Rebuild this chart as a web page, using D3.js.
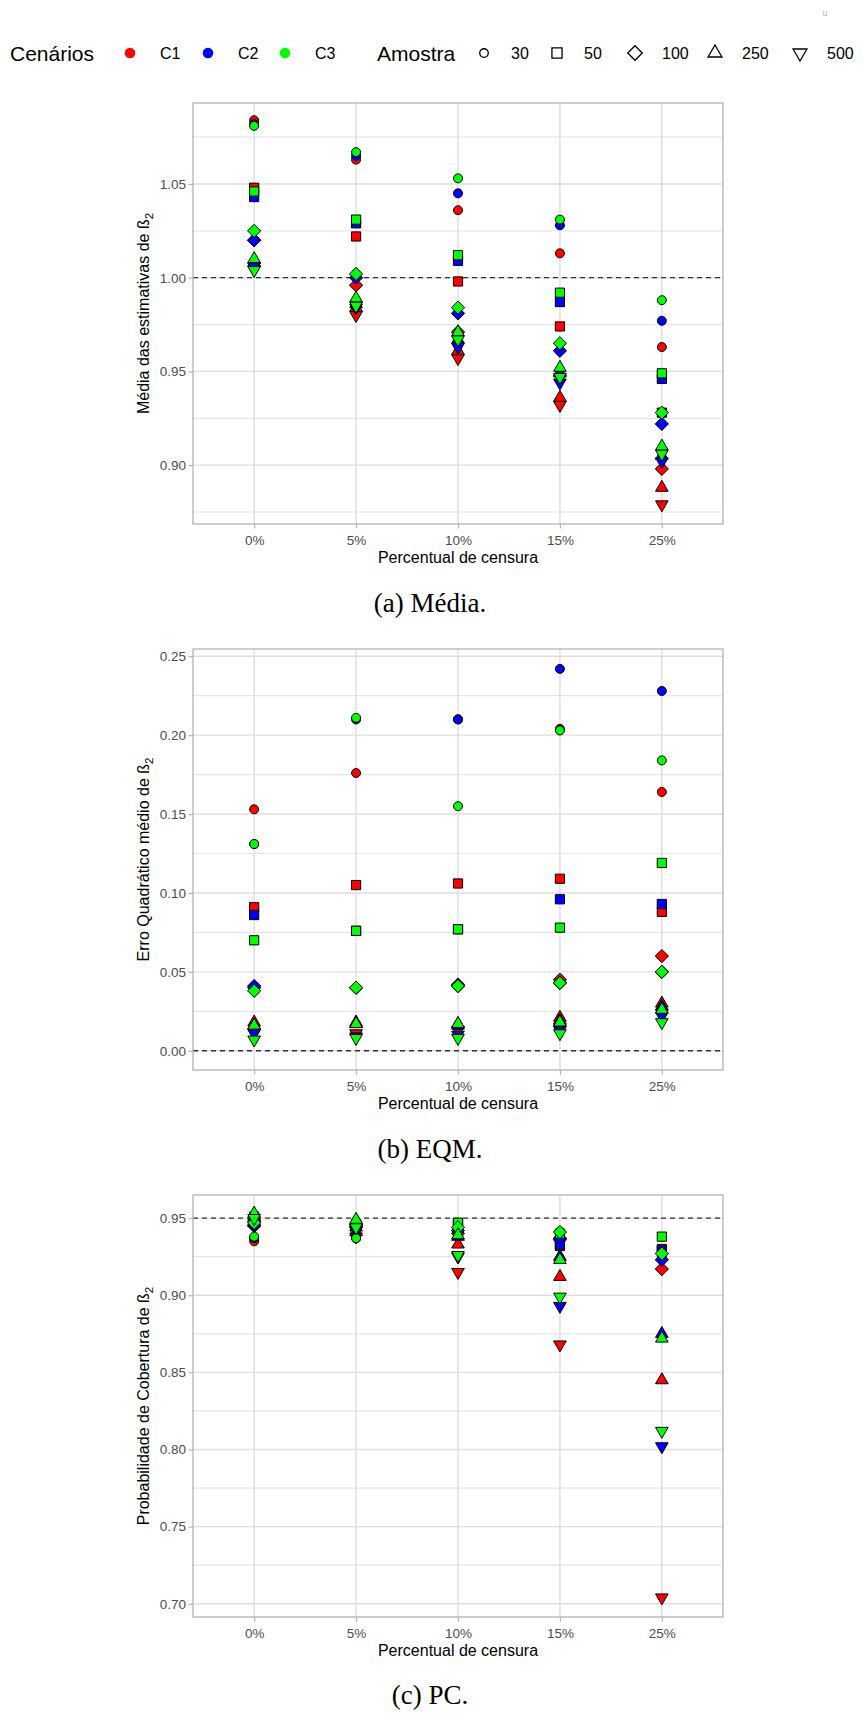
<!DOCTYPE html>
<html>
<head>
<meta charset="utf-8">
<script src="https://cdn.jsdelivr.net/npm/d3@7"></script>
<style>
  body { margin: 0; background: #fff; }
  text { font-family: "Liberation Sans", Arial, sans-serif; }
</style>
</head>
<body>
<svg id="fig" width="863" height="1713"></svg>
<script>
/*********************************************
** Simulacao - censura x tamanho de amostra
** d3 v7
**********************************************/

// categorias
var censura  = ["0%", "5%", "10%", "15%", "25%"];
var cenarios = ["C1", "C2", "C3"];
var amostras = ["30", "50", "100", "250", "500"];
var cores    = ["#FF0000", "#0000FF", "#00FF00"];
var formas   = ["circle", "square", "diamond", "up", "down"];

// linhas = amostra (30, 50, 100, 250, 500), colunas = censura
var mediaC1 = [[1.084, 1.063, 1.036, 1.013, 0.963],
               [1.048, 1.022, 0.998, 0.974, 0.928],
               [1.020, 0.996, 0.971, 0.948, 0.898],
               [1.008, 0.984, 0.961, 0.936, 0.888],
               [1.006, 0.980, 0.957, 0.932, 0.879]];
var mediaC2 = [[1.082, 1.065, 1.045, 1.028, 0.977],
               [1.043, 1.029, 1.009, 0.987, 0.946],
               [1.020, 1.000, 0.981, 0.961, 0.922],
               [1.008, 0.986, 0.967, 0.949, 0.905],
               [1.006, 0.984, 0.963, 0.944, 0.902]];
var mediaC3 = [[1.081, 1.067, 1.053, 1.031, 0.988],
               [1.046, 1.031, 1.012, 0.992, 0.949],
               [1.025, 1.002, 0.984, 0.965, 0.928],
               [1.010, 0.989, 0.971, 0.952, 0.910],
               [1.004, 0.985, 0.967, 0.947, 0.906]];

var eqmC1 = [[0.153, 0.176, 0.210, 0.204, 0.164],
             [0.091, 0.105, 0.106, 0.109, 0.088],
             [0.040, 0.040, 0.042, 0.045, 0.060],
             [0.018, 0.018, 0.017, 0.021, 0.030],
             [0.012, 0.011, 0.013, 0.015, 0.024]];
var eqmC2 = [[0.131, 0.210, 0.210, 0.242, 0.228],
             [0.086, 0.076, 0.077, 0.096, 0.093],
             [0.041, 0.040, 0.041, 0.043, 0.050],
             [0.016, 0.017, 0.016, 0.019, 0.028],
             [0.011, 0.009, 0.010, 0.013, 0.022]];
var eqmC3 = [[0.131, 0.211, 0.155, 0.203, 0.184],
             [0.070, 0.076, 0.077, 0.078, 0.119],
             [0.038, 0.040, 0.041, 0.043, 0.050],
             [0.016, 0.017, 0.017, 0.018, 0.026],
             [0.007, 0.008, 0.008, 0.011, 0.018]];

var pcC1 = [[0.935, 0.937, 0.944, 0.936, 0.925],
            [0.950, 0.945, 0.946, 0.932, 0.930],
            [0.945, 0.944, 0.940, 0.936, 0.917],
            [0.948, 0.941, 0.933, 0.912, 0.845],
            [0.947, 0.938, 0.915, 0.868, 0.704]];
var pcC2 = [[0.937, 0.938, 0.944, 0.938, 0.928],
            [0.950, 0.946, 0.946, 0.933, 0.929],
            [0.945, 0.945, 0.942, 0.937, 0.923],
            [0.950, 0.944, 0.938, 0.925, 0.875],
            [0.946, 0.942, 0.925, 0.893, 0.802]];
var pcC3 = [[0.938, 0.937, 0.945, 0.941, 0.927],
            [0.951, 0.946, 0.947, 0.940, 0.938],
            [0.947, 0.946, 0.944, 0.941, 0.927],
            [0.953, 0.949, 0.939, 0.923, 0.872],
            [0.950, 0.944, 0.926, 0.899, 0.812]];

var ticksMedia = [0.90, 0.95, 1.00, 1.05];
var ticksEqm   = [0.00, 0.05, 0.10, 0.15, 0.20, 0.25];
var ticksPc    = [0.70, 0.75, 0.80, 0.85, 0.90, 0.95];

var svg = d3.select("#fig");
var left = 193, right = 723;

var x = d3.scalePoint()
  .domain(censura)
  .range([left, right])
  .padding(0.6);

/**
* simbolo
* [path de um marcador centrado em (0,0), no estilo pch 21-25]
**/
function simbolo(forma, k){
  k = k || 1;
  if (forma == "circle"){
    var r = 4.5*k;
    return "M" + (-r) + ",0A" + r + "," + r + " 0 1,0 " + r + ",0A" + r + "," + r + " 0 1,0 " + (-r) + ",0Z";
  }
  if (forma == "square"){
    var h = 4.6*k;
    return "M" + (-h) + "," + (-h) + "H" + h + "V" + h + "H" + (-h) + "Z";
  }
  if (forma == "diamond"){
    var d = 6.6*k;
    return "M0," + (-d) + "L" + d + ",0L0," + d + "L" + (-d) + ",0Z";
  }
  var t = 7.3*k, w = t*0.866, s = (forma == "up") ? 1 : -1;
  return "M0," + (-t*s) + "L" + w + "," + (t/2*s) + "L" + (-w) + "," + (t/2*s) + "Z";
}

/**
* desenhaPainel
* [um painel: grade, eixos, linha de referencia e pontos]
**/
function desenhaPainel(p){
  var y = d3.scaleLinear().domain(p.dominio).range([p.bottom, p.top]);
  var g = svg.append("g");

  // grade menor
  var menores = d3.pairs(p.ticks).map(function(d){ return (d[0] + d[1])/2; });
  var passo = p.ticks[1] - p.ticks[0];
  menores.push(p.ticks[0] - passo/2, p.ticks[p.ticks.length - 1] + passo/2);
  g.selectAll(".minor")
    .data(menores.filter(function(v){ return v > p.dominio[0] && v < p.dominio[1]; }))
    .enter().append("line")
    .attr("x1", left).attr("x2", right)
    .attr("y1", y).attr("y2", y)
    .attr("stroke", "#E6E6E6").attr("stroke-width", 1.2);

  // grade maior
  g.selectAll(".gy")
    .data(p.ticks)
    .enter().append("line")
    .attr("x1", left).attr("x2", right)
    .attr("y1", y).attr("y2", y)
    .attr("stroke", "#DEDEDE").attr("stroke-width", 1.4);
  g.selectAll(".gx")
    .data(censura)
    .enter().append("line")
    .attr("x1", x).attr("x2", x)
    .attr("y1", p.top).attr("y2", p.bottom)
    .attr("stroke", "#DEDEDE").attr("stroke-width", 1.4);

  // linha de referencia
  g.append("line")
    .attr("x1", left).attr("x2", right)
    .attr("y1", y(p.ref)).attr("y2", y(p.ref))
    .attr("stroke", "#333").attr("stroke-width", 1.3)
    .attr("stroke-dasharray", "5,4");

  // pontos: cenario C1 -> C3, amostra 30 -> 500
  var pontos = [];
  p.dados.forEach(function(tab, c){
    tab.forEach(function(linha, a){
      linha.forEach(function(v, j){
        pontos.push({cen: c, am: a, cens: censura[j], v: v});
      });
    });
  });
  g.selectAll(".ponto")
    .data(pontos)
    .enter().append("path")
    .attr("transform", function(d){ return "translate(" + x(d.cens) + "," + y(d.v) + ")"; })
    .attr("d", function(d){ return simbolo(formas[d.am]); })
    .attr("fill", function(d){ return cores[d.cen]; })
    .attr("stroke", "#000")
    .attr("stroke-width", 1);

  // borda
  g.append("rect")
    .attr("x", left).attr("y", p.top)
    .attr("width", right - left).attr("height", p.bottom - p.top)
    .attr("fill", "none").attr("stroke", "#B3B3B3").attr("stroke-width", 1.3);

  // eixos
  var ay = g.append("g")
    .attr("transform", "translate(" + left + ",0)")
    .call(d3.axisLeft(y).tickValues(p.ticks).tickFormat(d3.format(".2f"))
      .tickSize(4.5).tickPadding(2.5).tickSizeOuter(0));
  var ax = g.append("g")
    .attr("transform", "translate(0," + p.bottom + ")")
    .call(d3.axisBottom(x).tickSize(4.5).tickPadding(6.5).tickSizeOuter(0));
  [ay, ax].forEach(function(a){
    a.select(".domain").remove();
    a.selectAll(".tick line").attr("stroke", "#B3B3B3").attr("stroke-width", 1.2);
    a.selectAll(".tick text").attr("fill", "#4D4D4D")
      .style("font-family", '"Liberation Sans", Arial, sans-serif')
      .style("font-size", "13.5px");
  });

  // titulos
  g.append("text")
    .attr("x", (left + right)/2).attr("y", p.bottom + 38.5)
    .attr("text-anchor", "middle")
    .style("font-size", "16px")
    .text("Percentual de censura");

  var cy = (p.top + p.bottom)/2;
  var ty = g.append("text")
    .attr("transform", "translate(149," + cy + ") rotate(-90)")
    .attr("text-anchor", "middle")
    .style("font-size", "16px");
  ty.append("tspan").text(p.titulo + "ß");
  ty.append("tspan").attr("dy", 4).style("font-size", "11.5px").text("2");

  svg.append("text")
    .attr("x", 430).attr("y", p.legenda_y)
    .attr("text-anchor", "middle")
    .style("font-family", '"Liberation Serif", "Times New Roman", serif')
    .style("font-size", "27px")
    .text(p.legenda);
}

var paineis = [
  {dados: [mediaC1, mediaC2, mediaC3], dominio: [0.8686, 1.0932], ticks: ticksMedia, ref: 1.00,
   titulo: "Média das estimativas de ", legenda: "(a) Média.", top: 103, bottom: 524, legenda_y: 612},
  {dados: [eqmC1, eqmC2, eqmC3], dominio: [-0.0122, 0.2546], ticks: ticksEqm, ref: 0.00,
   titulo: "Erro Quadrático médio de ", legenda: "(b) EQM.", top: 649, bottom: 1070, legenda_y: 1158},
  {dados: [pcC1, pcC2, pcC3], dominio: [0.6914, 0.965], ticks: ticksPc, ref: 0.95,
   titulo: "Probabilidade de Cobertura de ", legenda: "(c) PC.", top: 1195, bottom: 1617, legenda_y: 1704}
];
paineis.forEach(desenhaPainel);

// legenda do topo
var leg = svg.append("g");
var ly = 53;
leg.append("text").attr("x", 10).attr("y", ly + 7.5).style("font-size", "21px").text("Cenários");
var corX = [130, 208, 285];
cenarios.forEach(function(c, i){
  leg.append("circle").attr("cx", corX[i]).attr("cy", ly).attr("r", 5.3).attr("fill", cores[i]);
  leg.append("text").attr("x", corX[i] + 30).attr("y", ly + 6).style("font-size", "16px").text(c);
});
leg.append("text").attr("x", 377).attr("y", ly + 7.5).style("font-size", "21px").text("Amostra");
var formaX = [484, 557, 635, 715, 800];
amostras.forEach(function(a, i){
  leg.append("path")
    .attr("transform", "translate(" + formaX[i] + "," + ly + ")")
    .attr("d", simbolo(formas[i], i == 0 ? 0.95 : 1.1))
    .attr("fill", "none").attr("stroke", "#000").attr("stroke-width", 1.3);
  leg.append("text").attr("x", formaX[i] + 27).attr("y", ly + 6).style("font-size", "16px").text(a);
});
svg.append("text").attr("x", 825).attr("y", 16).attr("text-anchor", "middle")
  .style("font-size", "9px").attr("fill", "#B0B0B8").text("u");
</script>
</body>
</html>
